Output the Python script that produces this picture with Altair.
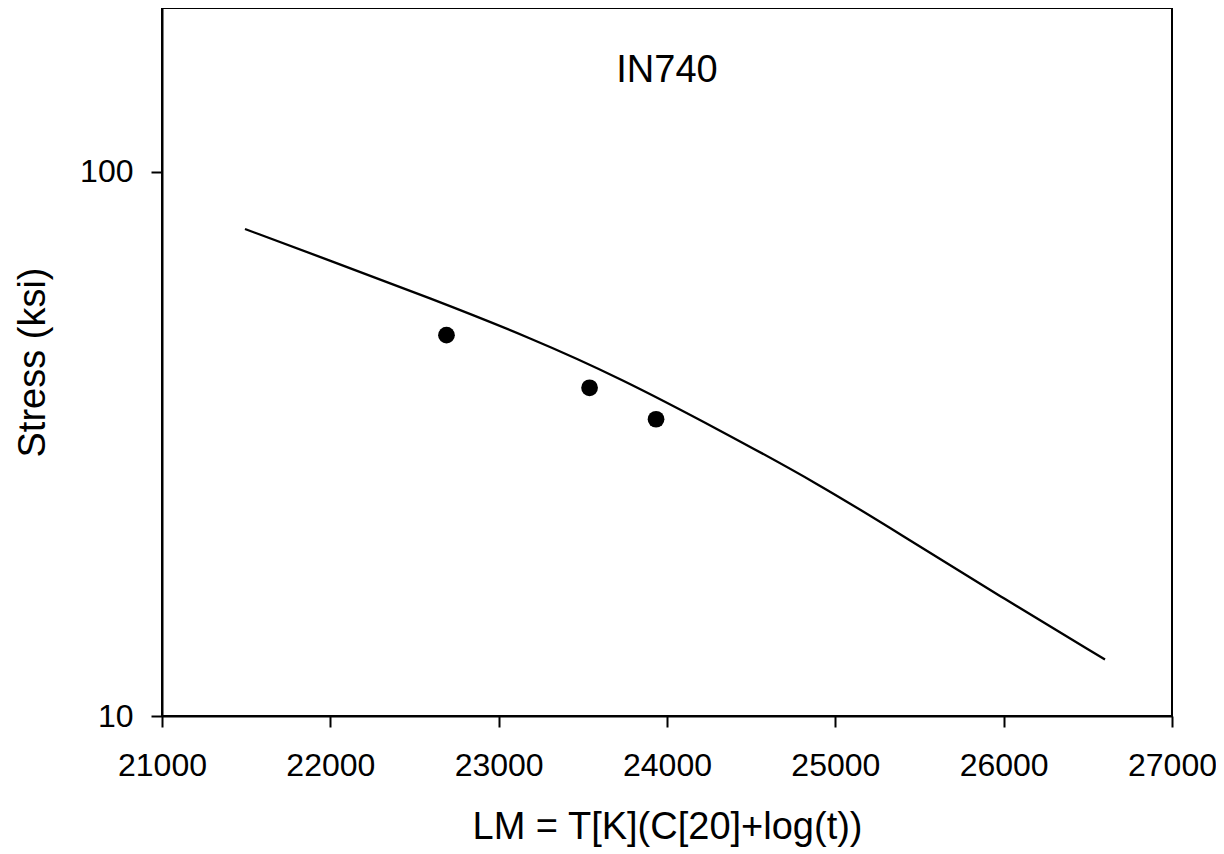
import altair as alt
import pandas as pd

# Larson-Miller master curve
lm_curve = [21493, 21998, 22592, 23186, 23721, 24315, 24909, 25384, 25978, 26602]
stress_curve = [78.5, 68.7, 58.6, 49.6, 41.8, 33.5, 26.6, 21.6, 16.6, 12.7]

# measured data points
lm_pts = [22690, 23540, 23935]
stress_pts = [50.1, 40.1, 35.1]

x_ticks = [21000, 22000, 23000, 24000, 25000, 26000, 27000]
y_ticks = [10, 100]

curve_df = pd.DataFrame({"lm": lm_curve, "stress": stress_curve})
pts_df = pd.DataFrame({"lm": lm_pts, "stress": stress_pts})

FONT = "Liberation Sans"

x_enc = alt.X(
    "lm:Q",
    scale=alt.Scale(domain=[21000, 27000], nice=False, zero=False),
    axis=alt.Axis(
        title="LM = T[K](C[20]+log(t))",
        values=x_ticks,
        format="d",
        grid=False,
        tickSize=11,
        labelPadding=23,
        titlePadding=27,
    ),
)
y_enc = alt.Y(
    "stress:Q",
    scale=alt.Scale(type="log", domain=[10, 200], nice=False),
    axis=alt.Axis(
        title="Stress (ksi)",
        values=y_ticks,
        format="d",
        grid=False,
        tickSize=11,
        labelPadding=18,
        titlePadding=27,
    ),
)

line = alt.Chart(curve_df).mark_line(
    color="black", strokeWidth=2.3, interpolate="basis"
).encode(x=x_enc, y=y_enc)
points = alt.Chart(pts_df).mark_circle(color="black", opacity=1, size=280).encode(
    x="lm:Q", y="stress:Q"
)

chart = (
    alt.layer(line, points)
    .properties(
        width=1010,
        height=708,
        autosize=alt.AutoSizeParams(type="none"),
        padding={"left": 154, "top": 0, "right": 44, "bottom": 138},
        title=alt.TitleParams(
            text="IN740",
            font=FONT,
            fontSize=38,
            fontWeight="normal",
            color="black",
            anchor="middle",
            frame="group",
            orient="top",
            baseline="alphabetic",
            offset=0,
            dy=112,
        ),
    )
    .configure_view(stroke="black", strokeWidth=2)
    .configure_axis(
        labelFont=FONT,
        labelFontSize=32,
        labelColor="black",
        titleFont=FONT,
        titleFontSize=38,
        titleFontWeight="normal",
        titleColor="black",
        tickColor="black",
        tickWidth=2,
        domainColor="black",
        domainWidth=2,
        labelFlush=False,
        labelOverlap=False,
    )
)

chart.save("out.html", embed_options={"renderer": "svg", "actions": False})
